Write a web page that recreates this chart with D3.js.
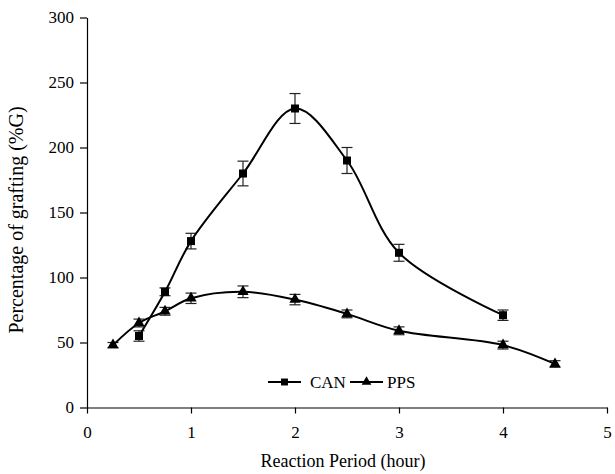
<!DOCTYPE html>
<html>
<head>
<meta charset="utf-8">
<script src="https://cdn.jsdelivr.net/npm/d3@7"></script>
<style>
  body { margin: 0; background: #fff; }
  svg text { font-family: "Liberation Serif", "Times New Roman", "DejaVu Serif", serif !important; fill: #000; }
</style>
</head>
<body>
<script>

var width = 615;
var height = 474;

// reaction period (hour) and %G for each initiator
var canHours = [0.5, 0.75, 1, 1.5, 2, 2.5, 3, 4];
var canValues = [55, 89, 128, 180, 230, 190, 119, 71];
var canErrors = [4, 3, 6, 9.5, 11.5, 10, 6.5, 4];

var ppsHours = [0.25, 0.5, 0.75, 1, 1.5, 2, 2.5, 3, 4, 4.5];
var ppsValues = [48, 65, 74, 84, 89, 83, 72, 59, 48, 33.5];
var ppsErrors = [2, 3, 3, 4, 4.5, 4, 3, 3, 3, 2.5];

var xTicks = [0, 1, 2, 3, 4, 5];
var yTicks = [0, 50, 100, 150, 200, 250, 300];

var margin = {top: 17.5, right: 8, bottom: 66.5, left: 87};

var svg = d3.select("body")
      .append("svg")
      .attr("width", width)
      .attr("height", height)

var x = d3.scaleLinear().domain([0, 5]).range([margin.left, width - margin.right]);
var y = d3.scaleLinear().domain([0, 300]).range([height - margin.bottom, margin.top]);

// axes
svg.append("g")
  .attr("transform", "translate(0," + y(0) + ")")
  .call(d3.axisBottom(x).tickValues(xTicks).tickFormat(d3.format("d"))
    .tickSize(6).tickSizeOuter(0).tickPadding(12));

svg.append("g")
  .attr("transform", "translate(" + x(0) + ",0)")
  .call(d3.axisLeft(y).tickValues(yTicks).tickFormat(d3.format("d"))
    .tickSize(7).tickSizeOuter(0).tickPadding(6));

svg.selectAll("g").attr("font-family", null);
svg.selectAll(".tick text").attr("font-size", "17px");
svg.selectAll(".domain, .tick line").attr("stroke", "#000").attr("stroke-width", 1.2);

svg.append("text")
  .attr("x", (x(0) + x(5)) / 2 - 4)
  .attr("y", 467)
  .attr("text-anchor", "middle")
  .attr("font-size", "18px")
  .text("Reaction Period (hour)");

svg.append("text")
  .attr("transform", "translate(23," + 220 + ") rotate(-90)")
  .attr("text-anchor", "middle")
  .attr("font-size", "20px")
  .text("Percentage of grafting (%G)");

function makeSeries(hours, values, errors) {
  return hours.map(function(h, i) {
    return {h: h, v: values[i], e: errors[i]};
  });
}

var series = [
  {name: "CAN", symbol: d3.symbolSquare, size: 64, data: makeSeries(canHours, canValues, canErrors)},
  {name: "PPS", symbol: d3.symbolTriangle, size: 55, data: makeSeries(ppsHours, ppsValues, ppsErrors)}
];

var line = d3.line()
  .x(function(d) { return x(d.h); })
  .y(function(d) { return y(d.v); })
  .curve(d3.curveCatmullRom.alpha(0.5));

series.forEach(function(s) {
  var g = svg.append("g");

  // error bars
  var eb = g.selectAll("g.err")
    .data(s.data)
    .enter().append("g")
    .attr("stroke", "#222")
    .attr("stroke-width", 1.2);
  eb.append("line")
    .attr("x1", function(d) { return x(d.h); })
    .attr("x2", function(d) { return x(d.h); })
    .attr("y1", function(d) { return y(d.v - d.e); })
    .attr("y2", function(d) { return y(d.v + d.e); });
  eb.append("line")
    .attr("x1", function(d) { return x(d.h) - 5.5; })
    .attr("x2", function(d) { return x(d.h) + 5.5; })
    .attr("y1", function(d) { return y(d.v + d.e); })
    .attr("y2", function(d) { return y(d.v + d.e); });
  eb.append("line")
    .attr("x1", function(d) { return x(d.h) - 5.5; })
    .attr("x2", function(d) { return x(d.h) + 5.5; })
    .attr("y1", function(d) { return y(d.v - d.e); })
    .attr("y2", function(d) { return y(d.v - d.e); });

  g.append("path")
    .datum(s.data)
    .attr("fill", "none")
    .attr("stroke", "#000")
    .attr("stroke-width", 2)
    .attr("d", line);

  g.selectAll("path.sym")
    .data(s.data)
    .enter().append("path")
    .attr("class", "sym")
    .attr("transform", function(d) { return "translate(" + x(d.h) + "," + y(d.v) + ")"; })
    .attr("d", d3.symbol().type(s.symbol).size(s.size))
    .attr("fill", "#000");
});

// legend
var legend = svg.append("g").attr("transform", "translate(268,382)");
var legendPos = [{line: 0, text: 42}, {line: 82, text: 119}];
series.forEach(function(s, i) {
  var item = legend.append("g").attr("transform", "translate(" + legendPos[i].line + ",0)");
  item.append("line").attr("x1", 0).attr("x2", 33).attr("y1", 0).attr("y2", 0)
    .attr("stroke", "#000").attr("stroke-width", 2);
  item.append("path").attr("transform", "translate(16.5,0)")
    .attr("d", d3.symbol().type(s.symbol).size(s.size * 0.75)).attr("fill", "#000");
  legend.append("text").attr("x", legendPos[i].text).attr("y", 6)
    .attr("font-size", "17px").text(s.name);
});

</script>
</body>
</html>
